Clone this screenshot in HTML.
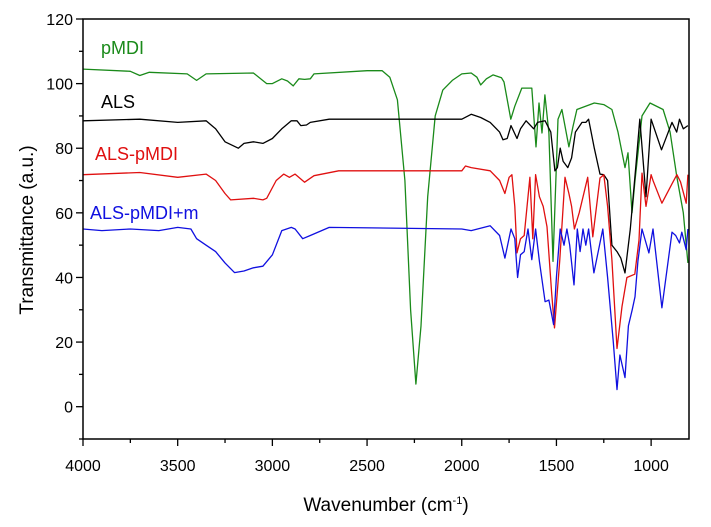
<!DOCTYPE html>
<html><head><meta charset="utf-8"><style>
html,body{margin:0;padding:0;background:#fff}
svg{display:block;font-family:"Liberation Sans",Arial,sans-serif}
</style></head><body>
<svg id="chart" width="711" height="527" viewBox="0 0 711 527" xmlns="http://www.w3.org/2000/svg">
<g id="series"></g>
<rect x="83" y="19" width="606" height="420" fill="none" stroke="#000" stroke-width="1.5"/>
<g id="axes"></g>
<text x="101" y="54" fill="#1a8a1a" font-size="18">pMDI</text>
<text x="101" y="108" fill="#000" font-size="18">ALS</text>
<text x="95" y="160" fill="#e01010" font-size="18">ALS-pMDI</text>
<text x="90" y="219" fill="#1010e0" font-size="18">ALS-pMDI+m</text>
<text transform="translate(33,230) rotate(-90)" text-anchor="middle" font-size="19">Transmittance (a.u.)</text>
<text x="386" y="511" text-anchor="middle" font-size="19">Wavenumber (cm<tspan dy="-7" font-size="11">-1</tspan><tspan dy="7">)</tspan></text>
</svg>
<script>
const xTicks=[4000,3500,3000,2500,2000,1500,1000];
const yTicks=[0,20,40,60,80,100,120];
const wnG=[4000,3750,3700,3650,3450,3400,3350,3100,3030,3000,2950,2920,2890,2860,2830,2800,2780,2500,2420,2380,2340,2300,2270,2242,2215,2180,2140,2100,2050,2000,1950,1920,1900,1870,1835,1790,1777,1741,1720,1683,1630,1608,1592,1576,1561,1540,1518,1492,1471,1434,1413,1392,1300,1250,1207,1175,1138,1122,1101,1085,1048,1006,937,900,864,830,806];
const tG=[104.5,103.8,102.5,103.5,103,101,103,103.3,100,100,101.5,100.8,99.3,101.5,101.3,101.5,103,104,104,102,95,70,30,7,25,65,90,98,101,103,103.3,102,99.6,101.5,102.7,101.8,100.5,89,93,98.6,98.6,80.4,94,84.7,96.5,84.7,45,89,92,80.4,86.6,92,94,93.5,92,85,74,78.6,60,70,90,94,92,85,71,60,44.5];
const wnK=[4000,3700,3500,3350,3300,3250,3180,3150,3100,3050,3000,2950,2900,2870,2850,2820,2800,2700,2000,1950,1900,1850,1800,1782,1760,1740,1708,1690,1660,1620,1600,1560,1530,1508,1495,1480,1465,1440,1420,1400,1365,1345,1330,1300,1270,1250,1230,1207,1180,1160,1138,1110,1080,1060,1027,1000,945,890,865,850,830,806];
const tK=[88.5,89,88,88.5,86,82,80,81.5,82,81.5,83,86,88.5,88.5,87,87.2,88,89,89,90.5,89.5,88,85,82.6,83,87,83,86,88.5,86,88,88.5,85,73,74,80,76,74,77,85,88,88,89,80,72,71.8,70,50,48,46,41.4,55,75,89,65,89,79.5,88,85,89,86,87];
const wnR=[4000,3700,3500,3350,3300,3250,3220,3100,3050,3030,2980,2940,2910,2880,2830,2780,2650,2000,1980,1950,1850,1800,1772,1750,1735,1720,1708,1690,1670,1640,1625,1610,1590,1570,1550,1525,1510,1482,1455,1434,1420,1405,1380,1335,1308,1270,1250,1230,1207,1180,1154,1128,1086,1064,1048,1027,1000,990,943,890,864,845,815,806];
const tR=[71.8,72.5,71,72,70,66,64,64.5,64,64.5,70,72,71,72,69.5,71.5,73,73,74.5,74,73,70,66,71,71.8,62,47.6,52,53,71,52,71.8,65,62,55.7,35,24.4,45.5,71,66,62,55,60,71,52.6,70.8,71.8,62,45.5,18,31,40,41,51.6,72.3,62,71.8,70,63,69,71.8,69.6,63,71.8];
const wnB=[4000,3900,3750,3600,3500,3430,3400,3350,3300,3250,3200,3150,3100,3050,3000,2950,2900,2880,2840,2800,2700,2000,1950,1850,1800,1772,1740,1720,1705,1690,1670,1650,1630,1610,1590,1560,1540,1515,1500,1480,1460,1445,1430,1407,1390,1375,1360,1345,1330,1302,1255,1230,1200,1180,1165,1138,1120,1100,1085,1070,1048,1012,990,943,890,870,850,838,815,806];
const tB=[55,54.5,55,54.5,55.5,55,52,50,48,44.5,41.5,42,43,43.5,47,54.5,55.5,55,52,53,55.5,55,54.5,56,53,46,55,52,40,47,48,55,45.5,55,45,32.5,33,25.4,40,55,50,55,50,37.7,55,48,55,50,55,41.4,55,40,20,5.3,16,9,25,30,34,45,55,47.6,55,30.6,54,53,50.7,54,48.6,55];
const X0=83,X1=689,Y0=19,Y1=439,XMIN=800,XMAX=4000,YMIN=-10,YMAX=120;
function sx(w){return X0+(XMAX-w)/(XMAX-XMIN)*(X1-X0);}
function sy(v){return Y1-(v-YMIN)/(YMAX-YMIN)*(Y1-Y0);}
const NS="http://www.w3.org/2000/svg";
const sg=document.getElementById('series'),ax=document.getElementById('axes');
function line(xs,ys,color,name){
  const p=document.createElementNS(NS,'polyline');
  p.setAttribute('points',xs.map((w,i)=>sx(w).toFixed(1)+','+sy(ys[i]).toFixed(1)).join(' '));
  p.setAttribute('fill','none');p.setAttribute('stroke',color);p.setAttribute('stroke-width','1.3');p.setAttribute('stroke-linejoin','round');
  
  
  sg.appendChild(p);
}
line(wnG,tG,'#1a8a1a','series-pmdi');
line(wnK,tK,'#000','series-als');
line(wnR,tR,'#e01010','series-als-pmdi');
line(wnB,tB,'#1010e0','series-als-pmdi-m');
function ln(x1,y1,x2,y2){const l=document.createElementNS(NS,'line');l.setAttribute('x1',x1);l.setAttribute('y1',y1);l.setAttribute('x2',x2);l.setAttribute('y2',y2);l.setAttribute('stroke','#000');l.setAttribute('stroke-width','1.3');ax.appendChild(l);return l;}
function tx(x,y,s,anchor){const t=document.createElementNS(NS,'text');t.setAttribute('x',x);t.setAttribute('y',y);t.setAttribute('text-anchor',anchor);t.setAttribute('font-size','16');t.textContent=s;ax.appendChild(t);return t;}
xTicks.forEach(v=>{const x=sx(v);const l=ln(x,Y1,x,Y1+7);
  
  
  const t=tx(x,471,String(v),'middle');
  
  
  if(v-250>=XMIN){const m=ln(sx(v-250),Y1,sx(v-250),Y1+4);
    
    }
});
yTicks.forEach(v=>{const y=sy(v);const l=ln(X0-7,y,X0,y);
  
  
  const t=tx(X0-10,y+6,String(v),'end');
  
  
  if(v-10>=YMIN){const m=ln(X0-4,sy(v-10),X0,sy(v-10));
    
    }
});
</script>
</body></html>
